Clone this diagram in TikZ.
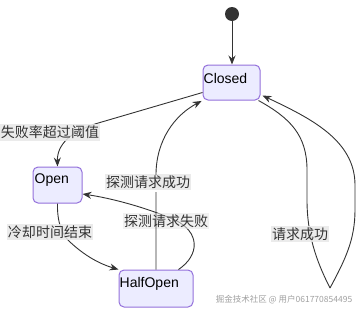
\documentclass[tikz,border=0pt]{standalone}
\usepackage{fontspec}
\setmainfont{Liberation Sans}
\newfontfamily\cjk{Noto Sans CJK SC}
\usetikzlibrary{arrows.meta}
\definecolor{nodefill}{HTML}{ECECFF}
\definecolor{nodeline}{HTML}{9370DB}
\definecolor{edgecol}{HTML}{333333}
\definecolor{lblbg}{HTML}{E8E8E8}
\definecolor{wmark}{HTML}{A0A0A0}
\tikzset{
  statebox/.style={draw=nodeline, fill=nodefill, line width=1pt, rounded corners=5pt, inner sep=0pt},
  statetext/.style={anchor=west, inner sep=0pt, font=\fontsize{14}{16}\selectfont, text=black},
  edge/.style={draw=edgecol, line width=0.9pt, -{Stealth[length=9pt,width=7pt,inset=3pt]}},
  plainedge/.style={draw=edgecol, line width=0.9pt},
  lbl/.style={fill=lblbg, fill opacity=0.85, text opacity=1, inner xsep=1pt, inner ysep=2pt, font=\cjk\fontsize{14}{16}\selectfont, text=edgecol},
}
\begin{document}
\begin{tikzpicture}[x=1pt,y=-1pt]
\useasboundingbox (0,0) rectangle (361,314);
% states
\node[circle, fill=edgecol, minimum size=14pt, inner sep=0pt] (start) at (232,14) {};
\node[statebox, minimum width=57pt, minimum height=35pt] (closed) at (231.5,82.5) {};
\node[statetext] (closedtxt) at ([xshift=1pt,yshift=4.5pt]closed.west) {Closed};
\node[statebox, minimum width=49pt, minimum height=36pt] (open) at (57.5,185) {};
\node[statetext] (opentxt) at ([xshift=2pt,yshift=5pt]open.west) {Open};
\node[statebox, minimum width=74pt, minimum height=37pt] (half) at (156,288.5) {};
\node[statetext] (halftxt) at ([xshift=1pt,yshift=5pt]half.west) {HalfOpen};

% edges
\draw[edge] (start.south) -- (start.south |- closed.north);
\draw[edge] ([yshift=8pt]closed.south west) -- (100,122.5) .. controls (70,131) and (57,145) .. (open.north);
\draw[edge] (open.south) .. controls (57,222) and (62,235) .. (70,242) .. controls (85,256) and (100,264) .. (half.north west);
\draw[edge] ([xshift=-15pt]half.north east) .. controls (200,255) and (200,232) .. (175,220) .. controls (145,207) and (110,198) .. ([yshift=-9pt]open.east);
\draw[plainedge] ([xshift=-2pt]closed.south east) .. controls (290,118) and (307,135) .. (307,170) -- (307,200) .. controls (307,240) and (320,268) .. (330,288) coordinate (looptip);
\draw[edge] (looptip) .. controls (345,260) and (355,240) .. (355,210) -- (355,185) .. controls (355,140) and (310,118) .. ([shift={(2pt,5pt)}]closed.south east);

% labels
\node[lbl] (l1) at (50,132) {失败率超过阈值};
\node[lbl] (l2) at (148,182) {探测请求成功};
\node[lbl, fill opacity=0.6] (l3) at (166,221) {探测请求失败};
\node[lbl] (l4) at (50,232) {冷却时间结束};
\node[lbl] (l5) at (300,234) {请求成功};

\draw[edge, shorten >=1pt] (half.north) -- (156,192) (156,172) -- (156,175) .. controls (156,140) and (175,115) .. (closed.south west);

% watermark
\node[font=\cjk\fontsize{8.5}{10}\selectfont, text=wmark, inner sep=0pt] (wm) at (284,300) {掘金技术社区 @ 用户061770854495};
\end{tikzpicture}
\end{document}
